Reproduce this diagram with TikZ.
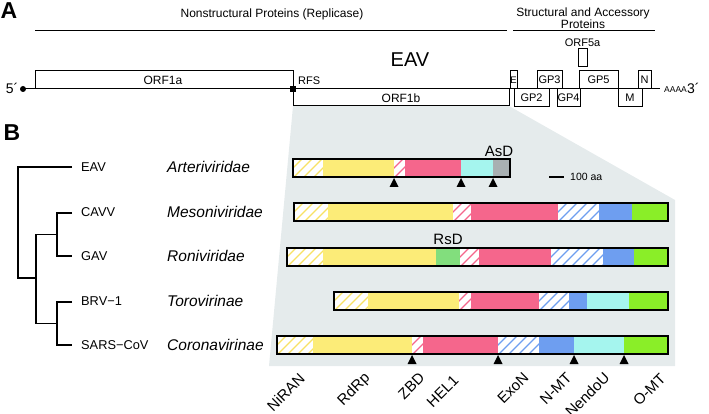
\documentclass[tikz,border=0pt]{standalone}
\usepackage{fontspec}
\setmainfont{Liberation Sans}
\definecolor{bgc}{RGB}{229,235,236}
\definecolor{yel}{RGB}{252,236,120}
\definecolor{hyel}{RGB}{248,226,100}
\definecolor{pk}{RGB}{245,102,140}
\definecolor{cy}{RGB}{165,245,238}
\definecolor{gseg}{RGB}{168,176,178}
\definecolor{bl}{RGB}{110,158,240}
\definecolor{gn}{RGB}{138,238,40}
\definecolor{lgn}{RGB}{130,222,125}
\newcommand{\hseg}[5]{%
  \fill[white] (#1,#3) rectangle (#2,#4);
  \begin{scope}
    \clip (#1,#3) rectangle (#2,#4);
    \foreach \s in {-20,-10,...,180}{\draw[#5,line width=1.3pt] ({#1+\s},#4+1) -- ++(22,-22);}
  \end{scope}}
\newcommand{\pseg}[5]{\fill[#5] (#1,#3) rectangle (#2,#4);}
\newcommand{\tri}[2]{\fill[black] (#1,#2) -- ++(-4.5,9) -- ++(9,0) -- cycle;}
\begin{document}
\begin{tikzpicture}[x=1pt,y=-1pt,
  lab/.style={font=\fontsize{12}{12.5}\selectfont, inner sep=0pt},
  olab/.style={font=\fontsize{11}{12}\selectfont, inner sep=0pt},
  small/.style={font=\fontsize{9.5}{11}\selectfont, inner sep=0pt},
  orf/.style={draw, line width=1pt},
  barline/.style={draw, line width=1.4pt},
  tree/.style={line width=1.2pt},
  fam/.style={font=\fontsize{15.5}{17}\selectfont\itshape, anchor=west, inner sep=0pt},
  leaf/.style={font=\fontsize{12.8}{14}\selectfont, anchor=west, inner sep=0pt},
  dom/.style={font=\fontsize{15}{17}\selectfont, anchor=east, rotate=45, inner sep=0pt},
  panel/.style={font=\fontsize{23}{26}\selectfont\bfseries, inner sep=0pt},
  big/.style={font=\fontsize{15}{17}\selectfont, inner sep=0pt}]
\useasboundingbox (0,0) rectangle (709,414);
% gray background
\fill[bgc] (293,106) -- (509,106) -- (675,200) -- (675,366) -- (269,366) -- cycle;
% ===== Panel A =====
\node[panel] (pA) at (9,11) {A};
\node[lab] (hdr1) at (272,14) {Nonstructural Proteins (Replicase)};
\draw[line width=1pt] (35,31) -- (507,31);
\node[lab, align=center] (hdr2) at (583,18) {Structural and Accessory\\Proteins};
\draw[line width=1pt] (513,31) -- (655,31);
\node[font=\fontsize{20}{22}\selectfont, inner sep=0pt] (eavt) at (410,60) {EAV};
% genome line
\node[font=\fontsize{14}{16}\selectfont, inner sep=0pt] (five) at (12,88) {5´};
\fill (23,89) circle (3);
\coordinate (gstart) at (23,89);
\coordinate (gend) at (660,89);
\draw[line width=1pt] (gstart) -- (gend);
\node[font=\fontsize{8.5}{9}\selectfont, inner sep=0pt, anchor=west] (aaaa) at (664,90) {AAAA};
\node[font=\fontsize{14}{16}\selectfont, inner sep=0pt, anchor=west] (three) at (687,88) {3´};
% ORF1a / ORF1b
\draw[orf] (35,89) -- (35,71) -- (293,71) -- (293,89);
\node[lab] (o1a) at (163,80) {ORF1a};
\draw[orf] (293,89) -- (293,106) -- (509,106) -- (509,89);
\node[lab] (o1b) at (401,98) {ORF1b};
\fill (290,86) rectangle (296,92);
\node[olab, anchor=west] (rfs) at (298,81) {RFS};
% structural ORFs
\draw[orf] (510,71) rectangle (517,89); \node[small] (oE) at (513.5,80) {E};
\draw[orf] (514,89) rectangle (549,107); \node[olab] (oGP2) at (531.5,98) {GP2};
\draw[orf] (537,71) rectangle (562,89); \node[olab] (oGP3) at (549.5,80) {GP3};
\draw[orf] (557,89) rectangle (580,107); \node[olab] (oGP4) at (568.5,98) {GP4};
\draw[orf] (579,71) rectangle (618,89); \node[olab] (oGP5) at (598.5,80) {GP5};
\draw[orf] (578,49) rectangle (587,67); \node[olab] (o5a) at (582.5,43) {ORF5a};
\draw[orf] (618,89) rectangle (642,107); \node[olab] (oM) at (630,98) {M};
\draw[orf] (638,71) rectangle (651,89); \node[olab] (oN) at (644.5,80) {N};
% ===== Panel B =====
\node[panel] (pB) at (12,133) {B};
% tree
\coordinate (lEAV) at (72,167);
\coordinate (lCAVV) at (72,213);
\coordinate (lGAV) at (72,256);
\coordinate (lBRV) at (72,302);
\coordinate (lSARS) at (72,345);
\coordinate (n0) at (18,278);
\coordinate (n1) at (36,278);
\coordinate (n2) at (57,234.5);
\coordinate (n3) at (57,323.5);
\draw[tree] (lEAV) -| (n0) -- (n1);
\draw[tree] (n2) -| (n1) |- (n3);
\draw[tree] (lCAVV) -| (n2) |- (lGAV);
\draw[tree] (lBRV) -| (n3) |- (lSARS);
\node[leaf] (tEAV) at (81,167) {EAV};
\node[leaf] (tCAVV) at (81,212) {CAVV};
\node[leaf] (tGAV) at (81,256) {GAV};
\node[leaf] (tBRV) at (81,301) {BRV−1};
\node[leaf] (tSARS) at (81,345) {SARS−CoV};
\node[fam] (fA) at (167,167) {Arteriviridae};
\node[fam] (fM) at (167,212) {Mesoniviridae};
\node[fam] (fR) at (167,256) {Roniviridae};
\node[fam] (fT) at (167,301) {Torovirinae};
\node[fam] (fC) at (167,345) {Coronavirinae};
% EAV bar
\hseg{293}{323}{159}{177}{hyel}
\pseg{323}{394}{159}{177}{yel}
\hseg{394}{405}{159}{177}{pk}
\pseg{405}{461}{159}{177}{pk}
\pseg{461}{493}{159}{177}{cy}
\pseg{493}{510}{159}{177}{gseg}
\draw[barline] (293,159) rectangle (510,177);
\tri{394}{178}\tri{461}{178}\tri{493}{178}
\node[big] (asd) at (499,151) {AsD};
\coordinate (sbA) at (549,177);
\coordinate (sbB) at (564,177);
\draw[line width=1.2pt] (sbA) -- (sbB);
\node[font=\fontsize{10.5}{12}\selectfont, inner sep=0pt, anchor=west] (scale) at (570,177) {100 aa};
% Mesoniviridae bar
\hseg{294}{328}{203}{221}{hyel}
\pseg{328}{453}{203}{221}{yel}
\hseg{453}{471}{203}{221}{pk}
\pseg{471}{558}{203}{221}{pk}
\hseg{558}{599}{203}{221}{bl}
\pseg{599}{632}{203}{221}{bl}
\pseg{632}{668}{203}{221}{gn}
\draw[barline] (294,203) rectangle (668,221);
% Roniviridae bar
\hseg{287}{323}{248}{266}{hyel}
\pseg{323}{436}{248}{266}{yel}
\pseg{436}{460}{248}{266}{lgn}
\hseg{460}{479}{248}{266}{pk}
\pseg{479}{551}{248}{266}{pk}
\hseg{551}{603}{248}{266}{bl}
\pseg{603}{634}{248}{266}{bl}
\pseg{634}{668}{248}{266}{gn}
\draw[barline] (287,248) rectangle (668,266);
\node[big] (rsd) at (448,239) {RsD};
% Torovirinae bar
\hseg{334}{368}{292}{310}{hyel}
\pseg{368}{459}{292}{310}{yel}
\hseg{459}{471}{292}{310}{pk}
\pseg{471}{539}{292}{310}{pk}
\hseg{539}{569}{292}{310}{bl}
\pseg{569}{587}{292}{310}{bl}
\pseg{587}{629}{292}{310}{cy}
\pseg{629}{668}{292}{310}{gn}
\draw[barline] (334,292) rectangle (668,310);
% Coronavirinae bar
\hseg{277}{313}{336}{354}{hyel}
\pseg{313}{412}{336}{354}{yel}
\hseg{412}{423}{336}{354}{pk}
\pseg{423}{498}{336}{354}{pk}
\hseg{498}{539}{336}{354}{bl}
\pseg{539}{574}{336}{354}{bl}
\pseg{574}{624}{336}{354}{cy}
\pseg{624}{668}{336}{354}{gn}
\draw[barline] (277,336) rectangle (668,354);
\tri{412}{355}\tri{498}{355}\tri{574}{355}\tri{624}{355}
% domain labels
\node[dom] (dNiRAN) at (302,376) {NiRAN};
\node[dom] (dRdRp) at (368,376) {RdRp};
\node[dom] (dZBD) at (422,375) {ZBD};
\node[dom] (dHEL) at (456,378) {HEL1};
\node[dom] (dExoN) at (526,375) {ExoN};
\node[dom] (dNMT) at (569,375) {N-MT};
\node[dom] (dNendoU) at (607,375) {NendoU};
\node[dom] (dOMT) at (663,376) {O-MT};
\end{tikzpicture}
\end{document}
